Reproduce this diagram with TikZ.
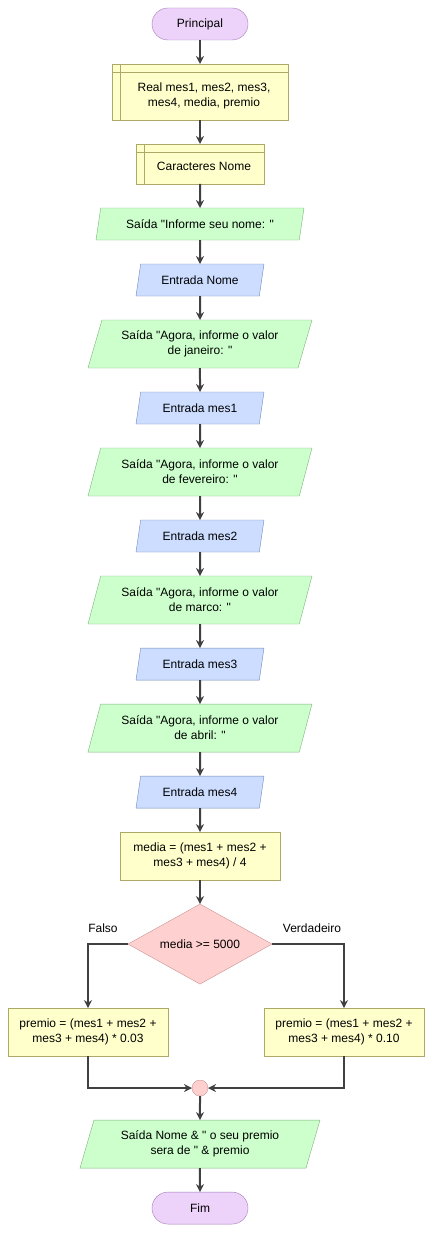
\documentclass[tikz,border=0pt]{standalone}
\usepackage{fontspec}
\setmainfont{Liberation Sans}
\usetikzlibrary{positioning,arrows.meta,shapes.geometric}
\definecolor{termfill}{HTML}{EDD3FA}
\definecolor{termline}{HTML}{A07CB8}
\definecolor{procfill}{HTML}{FFFFCC}
\definecolor{procline}{HTML}{ADA868}
\definecolor{outfill}{HTML}{CCFFCC}
\definecolor{outline}{HTML}{7DB07D}
\definecolor{infill}{HTML}{CCDDFF}
\definecolor{inline}{HTML}{7088B8}
\definecolor{decfill}{HTML}{FFD0D0}
\definecolor{decline}{HTML}{C89090}
\definecolor{arrowcol}{HTML}{404040}
% text of a declaration box sits in the part right of / below the inner lines
\newcommand\decltext[1]{\raisebox{-4pt}[\height][\depth]{\hspace{8pt}\begin{tabular}{@{}c@{}}#1\end{tabular}}}
\newcommand\dq{\textquotedbl}

\begin{document}
\begin{tikzpicture}[x=1pt,y=-1pt,>={Stealth[length=8pt,width=8pt]},node distance=24pt,
  font=\fontsize{12}{15}\selectfont,every node/.append style={outer sep=0pt},
  term/.style={draw=termline,fill=termfill,rounded corners=16pt,minimum width=96pt,minimum height=32pt,inner sep=0pt},
  proc/.style={draw=procline,fill=procfill,minimum width=160pt,minimum height=48pt,inner sep=0pt,align=center},
  decl/.style={proc,path picture={
      \draw[procline] ([xshift=8pt]path picture bounding box.north west) -- ([xshift=8pt]path picture bounding box.south west);
      \draw[procline] ([yshift=-8pt]path picture bounding box.north west) -- ([yshift=-8pt]path picture bounding box.north east);}},
  io/.style={trapezium,trapezium left angle=62,trapezium right angle=118,trapezium stretches body,
      minimum height=48pt,inner sep=0pt,align=center},
  outp/.style={io,draw=outline,fill=outfill},
  inp/.style={io,draw=inline,fill=infill,minimum width=128pt,minimum height=32pt},
  dec/.style={diamond,aspect=1.8,draw=decline,fill=decfill,minimum width=144pt,minimum height=80pt,inner sep=0pt},
  merge/.style={circle,draw=decline,fill=decfill,minimum size=16pt,inner sep=0pt},
  flow/.style={->,draw=arrowcol,line width=2pt}]
\useasboundingbox (0,0) rectangle (433,1233);

\node[term] (start) at (200,24) {Principal};
\node[decl,minimum width=176pt,minimum height=56pt] (vars) [below=of start] {\decltext{Real mes1, mes2, mes3,\\mes4, media, premio}};
\node[decl,minimum width=128pt,minimum height=40pt] (chars) [below=of vars] {\decltext{Caracteres Nome}};
\node[outp,minimum width=208pt,minimum height=32pt] (askname) [below=of chars] {Saída \dq Informe seu nome: \dq};
\node[inp] (readname) [below=of askname] {Entrada Nome};
\node[outp,minimum width=224pt] (askjan) [below=of readname] {Saída \dq Agora, informe o valor\\de janeiro: \dq};
\node[inp] (readjan) [below=of askjan] {Entrada mes1};
\node[outp,minimum width=224pt] (askfev) [below=of readjan] {Saída \dq Agora, informe o valor\\de fevereiro: \dq};
\node[inp] (readfev) [below=of askfev] {Entrada mes2};
\node[outp,minimum width=224pt] (askmar) [below=of readfev] {Saída \dq Agora, informe o valor\\de marco: \dq};
\node[inp] (readmar) [below=of askmar] {Entrada mes3};
\node[outp,minimum width=224pt] (askabr) [below=of readmar] {Saída \dq Agora, informe o valor\\de abril: \dq};
\node[inp] (readabr) [below=of askabr] {Entrada mes4};
\node[proc] (avg) [below=of readabr] {media = (mes1 + mes2 +\\mes3 + mes4) / 4};
\node[dec] (test) [below=of avg] {media >= 5000};
\node[proc] (low) [below=of test,xshift=-112pt] {premio = (mes1 + mes2 +\\mes3 + mes4) * 0.03};
\node[proc] (high) [below=of test,xshift=144pt] {premio = (mes1 + mes2 +\\mes3 + mes4) * 0.10};
\coordinate (join) at (test.south |- low.south);
\node[merge] (mg) [below=of join] {};
\node[outp,minimum width=240pt] (result) [below=of mg] {Saída Nome \& \dq\ o seu premio\\sera de \dq\ \& premio};
\node[term] (stop) [below=of result] {Fim};
\node (no) at (103,928) {Falso};
\node (yes) at (312,928) {Verdadeiro};

\draw[flow] (start) -- (vars);
\draw[flow] (vars) -- (chars);
\draw[flow] (chars) -- (askname);
\draw[flow] (askname) -- (readname);
\draw[flow] (readname) -- (askjan);
\draw[flow] (askjan) -- (readjan);
\draw[flow] (readjan) -- (askfev);
\draw[flow] (askfev) -- (readfev);
\draw[flow] (readfev) -- (askmar);
\draw[flow] (askmar) -- (readmar);
\draw[flow] (readmar) -- (askabr);
\draw[flow] (askabr) -- (readabr);
\draw[flow] (readabr) -- (avg);
\draw[flow] (avg) -- (test);
\draw[flow] (test) -| (low);
\draw[flow] (test) -| (high);
\draw[flow] (low) |- (mg);
\draw[flow] (high) |- (mg);
\draw[flow] (mg) -- (result);
\draw[flow] (result) -- (stop);
\end{tikzpicture}
\end{document}
